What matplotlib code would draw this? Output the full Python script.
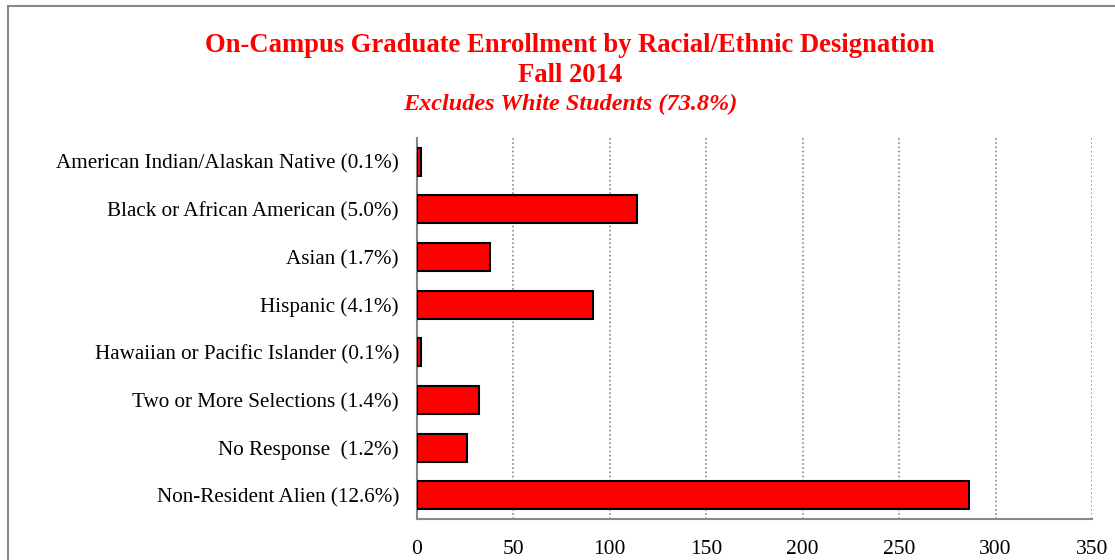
import matplotlib.pyplot as plt
from matplotlib.patches import Rectangle

categories = [
    "American Indian/Alaskan Native (0.1%)",
    "Black or African American (5.0%)",
    "Asian (1.7%)",
    "Hispanic (4.1%)",
    "Hawaiian or Pacific Islander (0.1%)",
    "Two or More Selections (1.4%)",
    "No Response  (1.2%)",
    "Non-Resident Alien (12.6%)",
]
counts = [2, 114, 38, 91, 2, 32, 26, 286]
x_ticks = [0, 50, 100, 150, 200, 250, 300, 350]

plt.rcParams["font.family"] = ["Liberation Serif", "DejaVu Serif"]

fig = plt.figure(figsize=(11.15, 5.6), dpi=100)
ax = fig.add_axes([417 / 1115, 1 - 519 / 560, (1092 - 417) / 1115, (519 - 138) / 560])

positions = list(range(len(categories)))
ax.barh(positions, counts, height=0.59, color="#ff0000", edgecolor="black", linewidth=1.5, zorder=3)
ax.set_ylim(len(categories) - 0.5, -0.5)
ax.set_xlim(0, 350)
ax.set_xticks(x_ticks)
ax.set_xticklabels([str(t) for t in x_ticks], fontsize=15.5)
ax.set_yticks(positions)
ax.set_yticklabels(categories, fontsize=15.2)
ax.tick_params(axis="both", length=0)
ax.tick_params(axis="x", pad=15)
ax.tick_params(axis="y", pad=13)

ax.grid(axis="x", color="#8a8a8a", linestyle=(0, (1, 1.5)), linewidth=1.2, zorder=0)
for side in ("top", "right"):
    ax.spines[side].set_visible(False)
for side in ("left", "bottom"):
    ax.spines[side].set_color("#888888")
    ax.spines[side].set_linewidth(1.5)

# chart border
fig.patches.append(Rectangle((8 / 1115, -0.1), 1.2, 1 - 6 / 560 + 0.1, transform=fig.transFigure,
                             fill=False, edgecolor="#888888", linewidth=1.5))

fig.text(570 / 1115, 1 - 45 / 560, "On-Campus Graduate Enrollment by Racial/Ethnic Designation",
         ha="center", va="center", color="#ff0000", fontsize=19.2, fontweight="bold")
fig.text(570 / 1115, 1 - 75 / 560, "Fall 2014",
         ha="center", va="center", color="#ff0000", fontsize=19.2, fontweight="bold")
fig.text(570 / 1115, 1 - 104 / 560, "Excludes White Students (73.8%)",
         ha="center", va="center", color="#ff0000", fontsize=17.5, fontweight="bold", style="italic")

fig.savefig("out.png", dpi=100)
